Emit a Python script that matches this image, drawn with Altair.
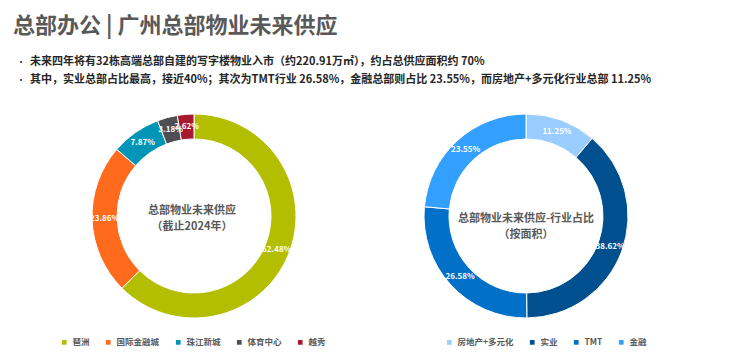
import altair as alt
import pandas as pd

FONT = "Noto Sans CJK SC"

title_text = ["总部办公 | 广州总部物业未来供应"]
bullet_lines = [
    "未来四年将有32栋高端总部自建的写字楼物业入市（约220.91万㎡），约占总供应面积约 70%",
    "其中，实业总部占比最高，接近40%；其次为TMT行业 26.58%，金融总部则占比 23.55%，而房地产+多元化行业总部 11.25%",
]

left_cats = ["琶洲", "国际金融城", "珠江新城", "体育中心", "越秀"]
left_vals = [62.48, 23.86, 7.87, 3.18, 2.62]
left_colors = ["#b3be00", "#ff6a1c", "#0095b6", "#4d4f53", "#a6192e"]
left_center = ["总部物业未来供应", "（截止2024年）"]

right_cats = ["房地产+多元化", "实业", "TMT", "金融"]
right_vals = [11.25, 38.62, 26.58, 23.55]
right_colors = ["#99ccff", "#004f8f", "#0070c9", "#33a0ff"]
right_center = ["总部物业未来供应-行业占比", "（按面积）"]

W, H = 724, 346
LX, RX, CY = 186, 518, 208
R_OUT, R_IN = 102, 77

def donut(cats, vals, colors, cx, legend_x, cols):
    df = pd.DataFrame({"cat": cats, "val": vals, "idx": list(range(len(cats)))})
    df["label"] = [f"{v:.2f}%" for v in vals]
    base = alt.Chart(df)
    arc = base.mark_arc(outerRadius=R_OUT, innerRadius=R_IN, stroke="white", strokeWidth=1).encode(
        theta=alt.Theta("val:Q", stack=True),
        order=alt.Order("idx:Q"),
        color=alt.Color(
            "cat:N",
            scale=alt.Scale(domain=cats, range=colors),
            sort=cats,
            legend=alt.Legend(
                title=None, orient="none", legendX=legend_x, legendY=330,
                direction="horizontal", columns=cols, symbolType="square",
                symbolSize=22, symbolStrokeWidth=0, labelFontSize=8.5, labelFont=FONT,
                labelFontWeight="bold", labelColor="#595959", columnPadding=14,
                labelOffset=4, padding=0,
            ),
        ),
        x=alt.value(cx), y=alt.value(CY),
    )
    txt = base.mark_text(radius=(R_OUT + R_IN) / 2, font=FONT, fontSize=8, fontWeight="bold",
                         color="white", align="center", baseline="middle").encode(
        theta=alt.Theta("val:Q", stack=True),
        order=alt.Order("idx:Q"),
        text="label:N",
        x=alt.value(cx), y=alt.value(CY),
    )
    return arc, txt

la, lt = donut(left_cats, left_vals, left_colors, LX, 52, 5)
ra, rt = donut(right_cats, right_vals, right_colors, RX, 437, 4)

def center_text(lines, cx, y0):
    df = pd.DataFrame({"t": lines, "i": list(range(len(lines)))})
    df["y"] = [y0 + 16 * i for i in range(len(lines))]
    return alt.Chart(df).mark_text(font=FONT, fontSize=11, fontWeight="bold", color="#595959",
                                   align="center", baseline="middle").encode(
        text="t:N", x=alt.value(cx), y=alt.Y("y:Q", scale=None))

lc = center_text(left_center, LX - 2, 203)
rc = center_text(right_center, RX, 211)

title = alt.Chart(pd.DataFrame({"t": title_text})).mark_text(
    font=FONT, fontSize=22, fontWeight="bold", color="#595959", align="left", baseline="middle"
).encode(text="t:N", x=alt.value(5), y=alt.value(18))

bdf = pd.DataFrame({"t": bullet_lines, "y": [54, 72]})
bullets = alt.Chart(bdf).mark_text(
    font=FONT, fontSize=11, fontWeight="bold", color="#262626", align="left", baseline="middle"
).encode(text="t:N", x=alt.value(22), y=alt.Y("y:Q", scale=None))
dots = alt.Chart(bdf).mark_text(
    font=FONT, fontSize=9, color="#262626", align="center", baseline="middle"
).encode(text=alt.value("•"), x=alt.value(13), y=alt.Y("y:Q", scale=None))

chart = alt.layer(la, lt, ra, rt, lc, rc, title, bullets, dots).resolve_scale(
    color="independent", theta="independent"
).properties(width=W, height=H, padding=0, autosize=alt.AutoSizeParams(type="none")).configure_view(stroke=None)

chart.save("out.html", embed_options={"renderer": "svg", "actions": False})
